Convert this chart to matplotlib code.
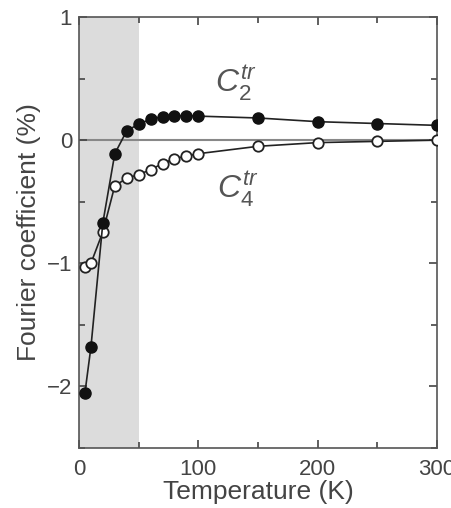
import numpy as np
import matplotlib as mpl
mpl.use('Agg')
import matplotlib.pyplot as plt
from matplotlib.ticker import MultipleLocator

# data
temp = [5, 10, 20, 30, 40, 50, 60, 70, 80, 90, 100, 150, 200, 250, 300]
c2 = [-2.05, -1.68, -0.67, -0.11, 0.076, 0.13, 0.17, 0.19, 0.195, 0.2, 0.195, 0.18, 0.15, 0.135, 0.12]
c4 = [-1.03, -1.0, -0.745, -0.37, -0.31, -0.28, -0.24, -0.19, -0.15, -0.13, -0.11, -0.05, -0.02, -0.01, 0.0]
shade_range = (0, 50)

plt.rcParams['font.family'] = ['Liberation Sans', 'DejaVu Sans']
plt.rcParams['mathtext.fontset'] = 'custom'
plt.rcParams['mathtext.it'] = 'Liberation Sans:italic'
plt.rcParams['mathtext.rm'] = 'Liberation Sans'
txt = '#444444'

fig = plt.figure(figsize=(4.51, 5.08), dpi=100)
ax = fig.add_axes([79/451, 1-448/508, (437-79)/451, (448-17)/508])

ax.axvspan(*shade_range, color='#dcdcdc', lw=0, zorder=0)
ax.axhline(0, color='#888888', lw=1.5, zorder=1)

ax.plot(temp, c4, '-o', color='#222222', mfc='white', mec='#222222', mew=1.3, ms=7.5, lw=1.2, zorder=3)
ax.plot(temp, c2, '-o', color='#222222', mfc='#111111', mec='#111111', ms=8, lw=1.2, zorder=4)

ax.text(131, 0.46, r'$C_2^{tr}$', fontsize=23, color='#555555', ha='center', va='center')
ax.text(133, -0.40, r'$C_4^{tr}$', fontsize=23, color='#555555', ha='center', va='center')

ax.set_xlim(0, 300)
ax.set_ylim(-2.5, 1)
ax.set_xticks([0, 100, 200, 300])
ax.set_yticks([-2, -1, 0, 1])
ax.xaxis.set_minor_locator(MultipleLocator(50))
ax.yaxis.set_minor_locator(MultipleLocator(0.5))
ax.tick_params(which='both', direction='in', top=True, right=True, colors='#444444', labelsize=16, labelcolor=txt)
ax.tick_params(which='major', length=6, width=1.2)
ax.tick_params(which='minor', length=4, width=1.2)
ax.tick_params(axis='x', pad=8)
ax.tick_params(axis='y', pad=5)
for s in ax.spines.values():
    s.set_color('#555555')
    s.set_linewidth(1.2)

ax.set_xlabel('Temperature (K)', fontsize=19, color=txt, labelpad=0)
ax.set_ylabel('Fourier coefficient (%)', fontsize=19, color=txt, labelpad=4)

fig.savefig('out.png', dpi=100)
